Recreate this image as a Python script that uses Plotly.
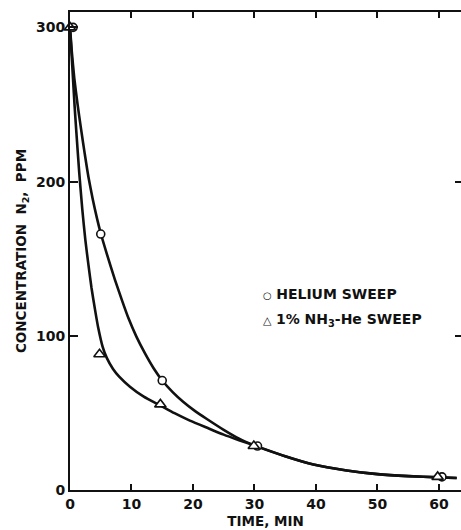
import plotly.graph_objects as go

# ---- data ----
he_pts_x = [0.5, 5.0, 15.0, 30.5, 60.5]
he_pts_y = [300, 166, 71, 28.5, 8.5]
nh3_pts_x = [0.0, 4.8, 14.7, 29.9, 59.8]
nh3_pts_y = [300, 88, 55.5, 28.5, 8.5]

he_curve_x = [0, 0.3, 0.7, 1.2, 1.8, 2.4, 3.0, 3.7, 4.4, 5.0, 6.0, 7.3, 8.5, 9.5, 10.8, 12.2,
              13.6, 15.0, 16.7, 18.4, 20.3, 22.2, 25.0, 27.5, 30.4, 35.0, 39.6, 45.0, 50.0,
              55.0, 60.0, 62.9]
he_curve_y = [300, 284, 267, 251, 234, 218, 203, 188.5, 176, 166.5, 153, 136.5, 122.5, 111.5,
              99.5, 88.6, 79, 71, 63.5, 57.2, 51.3, 46.2, 39.0, 33.3, 28.3, 21.9, 16.5, 12.7,
              10.3, 9.0, 8.2, 7.8]
nh3_curve_x = [0, 0.25, 0.5, 0.75, 1.0, 1.5, 2.0, 2.5, 3.0, 3.5, 4.07, 4.6, 5.3, 6.0, 7.0, 8.0,
               9.75, 12.0, 14.6, 17.0, 19.5, 22.5, 25.0, 27.5, 30.4, 35.0, 39.6, 45.0, 50.0,
               55.0, 60.0, 62.9]
nh3_curve_y = [300, 283, 266, 249, 234, 206, 182, 162, 146, 131, 117, 105, 93, 85.5, 78.5, 73.5,
               67, 60.5, 55, 49.8, 45, 40, 35.9, 32.3, 28.3, 21.9, 16.5, 12.7, 10.3,
               9.0, 8.2, 7.8]

x_ticks = [0, 10, 20, 30, 40, 50, 60]
y_ticks = [0, 100, 200, 300]

FONT = "DejaVu Sans"
INK = "#111111"

fig = go.Figure()
for cx, cy in [(he_curve_x, he_curve_y), (nh3_curve_x, nh3_curve_y)]:
    fig.add_trace(go.Scatter(x=cx, y=cy, mode="lines",
                             line=dict(color=INK, width=2.6, shape="spline", smoothing=0.6),
                             showlegend=False, hoverinfo="skip"))
fig.add_trace(go.Scatter(x=he_pts_x, y=he_pts_y, mode="markers", cliponaxis=False,
                         marker=dict(symbol="circle", size=8, color="white",
                                     line=dict(color=INK, width=1.6)),
                         showlegend=False, name="HELIUM SWEEP"))
fig.add_trace(go.Scatter(x=nh3_pts_x, y=nh3_pts_y, mode="markers", cliponaxis=False,
                         marker=dict(symbol="triangle-up", size=10, color="white",
                                     line=dict(color=INK, width=1.6)),
                         showlegend=False, name="1% NH3-He SWEEP"))
# invisible trace on the right-hand axis to carry its inside ticks
fig.add_trace(go.Scatter(x=[None], y=[None], yaxis="y2", showlegend=False, hoverinfo="skip"))

fig.update_layout(
    width=461, height=530,
    margin=dict(l=70, r=0, t=12, b=40),
    paper_bgcolor="white", plot_bgcolor="white",
    font=dict(family=FONT, size=13, color=INK),
    xaxis=dict(range=[0, 63.6], tickvals=x_ticks, ticktext=[f"<b>{v}</b>" for v in x_ticks],
               ticks="inside", ticklen=6, tickwidth=1.5, tickcolor=INK,
               showline=True, linecolor=INK, linewidth=1.8, mirror="ticks",
               showgrid=False, zeroline=False,
               tickfont=dict(family=FONT, size=14),
               title=dict(text="<b>TIME, MIN</b>", font=dict(family=FONT, size=13.5), standoff=6)),
    yaxis=dict(range=[0, 310], tickvals=y_ticks, ticktext=[f"<b>{v}</b>" for v in y_ticks],
               ticks="inside", ticklen=8, tickwidth=1.5, tickcolor=INK,
               showline=True, linecolor=INK, linewidth=1.8,
               showgrid=False, zeroline=False,
               tickfont=dict(family=FONT, size=14),
               title=dict(text="<b>CONCENTRATION  N<sub>2</sub>,  PPM</b>",
                          font=dict(family=FONT, size=13.5), standoff=6)),
    yaxis2=dict(range=[0, 310], overlaying="y", side="right", tickvals=[100, 200],
                ticks="inside", ticklen=6, tickwidth=1.5, tickcolor=INK,
                showticklabels=False, showline=False, showgrid=False, zeroline=False),
    annotations=[
        dict(x=31.0, y=127, xref="x", yref="y", xanchor="left", yanchor="middle", showarrow=False,
             text="<span style='font-size:10px'>○</span> <b>HELIUM SWEEP</b>",
             font=dict(family=FONT, size=14, color=INK)),
        dict(x=31.0, y=110, xref="x", yref="y", xanchor="left", yanchor="middle", showarrow=False,
             text="<span style='font-size:11px'>△</span> <b>1% NH<sub>3</sub>-He SWEEP</b>",
             font=dict(family=FONT, size=14, color=INK)),
    ],
)

fig.write_html("out.html")
